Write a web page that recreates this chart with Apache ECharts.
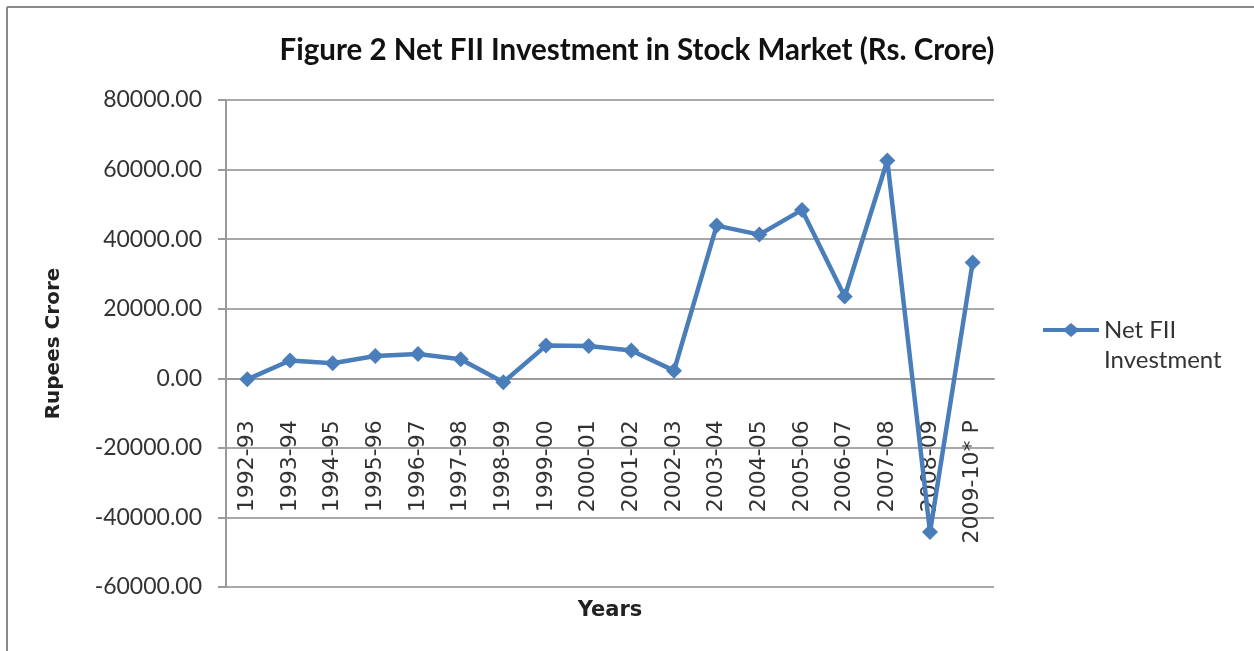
<!DOCTYPE html>
<html>
<head>
<meta charset="utf-8">
<script src="https://cdn.jsdelivr.net/npm/echarts@6/dist/echarts.min.js"></script>
<style>
html,body{margin:0;padding:0;background:#fff;}
#chart{width:1254px;height:651px;}
</style>
</head>
<body>
<div id="chart"></div>
<script>
var categories = ["1992-93","1993-94","1994-95","1995-96","1996-97","1997-98","1998-99","1999-00","2000-01","2001-02","2002-03","2003-04","2004-05","2005-06","2006-07","2007-08","2008-09","2009-10* P"];
var netFII = [-300, 5100, 4300, 6400, 7000, 5500, -1150, 9400, 9300, 8000, 2200, 43900, 41300, 48400, 23500, 62600, -44200, 33300];
var seriesName = "Net FII\nInvestment";
var titleText = "Figure 2 Net FII Investment in Stock Market (Rs. Crore)";
var yAxisName = "Rupees Crore";
var xAxisName = "Years";
var yMin = -60000, yMax = 80000, yStep = 20000;

var chart = echarts.init(document.getElementById('chart'));
var FONT = "Lato";
var BLUE = "#4a7ebb";
var gridTop = 100, gridBottom = 64, H = 651;
// place category axis at value 0 (Excel style)
var plotH = H - gridTop - gridBottom;
var zeroOffset = -plotH * (0 - yMin) / (yMax - yMin);

chart.setOption({
  animation: false,
  backgroundColor: "#fff",
  title: {
    text: titleText,
    left: 632, top: 30, textAlign: "center",
    textStyle: {fontFamily: FONT, fontWeight: "bold", fontSize: 29.5, color: "#111"}
  },
  legend: {
    left: 1038, top: 280, orient: "vertical",
    itemWidth: 56, itemHeight: 14, itemGap: 4,
    formatter: function (n) { return " \n" + n; },
    textStyle: {fontFamily: FONT, fontSize: 24, color: "#333", lineHeight: 30},
    data: [{name: seriesName, icon: "path://M0,5L22,5L28,0L34,5L56,5L56,9L34,9L28,14L22,9L0,9Z"}]
  },
  grid: {left: 226, right: 260, top: gridTop, bottom: gridBottom, containLabel: false, outerBoundsMode: "none"},
  xAxis: {
    type: "category",
    data: categories,
    boundaryGap: true,
    offset: zeroOffset,
    name: xAxisName,
    nameLocation: "middle",
    nameGap: 222,
    nameTextStyle: {fontFamily: "DejaVu Sans", fontWeight: "bold", fontSize: 21, color: "#222"},
    axisLine: {onZero: false, lineStyle: {color: "#9a9a9a", width: 2}},
    axisTick: {show: false},
    axisLabel: {rotate: 90, margin: 42, fontFamily: "DejaVu Sans", fontSize: 22, color: "#333", interval: 0}
  },
  yAxis: {
    type: "value",
    min: yMin, max: yMax, interval: yStep,
    name: yAxisName,
    nameLocation: "middle",
    nameGap: 162,
    nameTextStyle: {fontFamily: "DejaVu Sans", fontWeight: "bold", fontSize: 20, color: "#222"},
    axisLine: {show: true, lineStyle: {color: "#9a9a9a", width: 2}},
    axisTick: {show: true, length: 8, lineStyle: {color: "#9a9a9a", width: 2}},
    axisLabel: {margin: 24, fontFamily: FONT, fontSize: 23, color: "#333",
      formatter: function (v) { return v.toFixed(2); }},
    splitLine: {lineStyle: {color: "#a8a8a8", width: 2}}
  },
  series: [{
    name: seriesName,
    type: "line",
    data: netFII,
    symbol: "diamond",
    symbolSize: 16,
    lineStyle: {color: BLUE, width: 4.5},
    itemStyle: {color: BLUE}
  }],
  graphic: [
    {type: "line", shape: {x1: 7, y1: 7, x2: 7, y2: 651}, style: {stroke: "#8a8a8a", lineWidth: 2}},
    {type: "line", shape: {x1: 7, y1: 7, x2: 1254, y2: 7}, style: {stroke: "#8a8a8a", lineWidth: 2}}
  ]
});
</script>
</body>
</html>
